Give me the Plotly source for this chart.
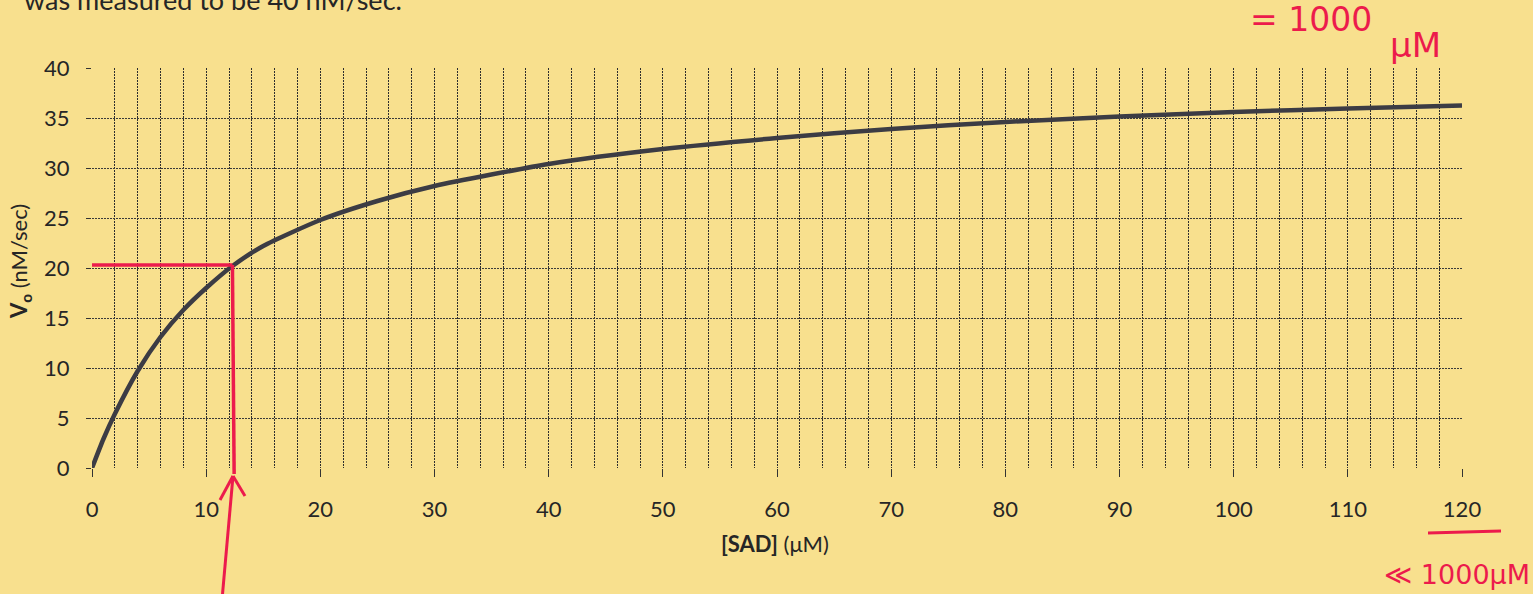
import plotly.graph_objects as go

# ---- data ----
sad_um = [0, 1, 2, 4, 6, 8, 10, 12.3, 15, 20, 25, 30, 40, 50, 60, 70, 80, 90, 100, 110, 120]
v0_nm_s = [0, 2.9, 5.4, 9.7, 13.1, 15.8, 18.0, 20.2, 22.2, 24.8, 26.7, 28.2, 30.4, 31.9,
           33.0, 33.9, 34.6, 35.15, 35.6, 35.95, 36.25]
half_vmax = 20.3      # red guide: half of Vmax
km_read = 12.3        # red guide: Km
x_ticks = [0, 10, 20, 30, 40, 50, 60, 70, 80, 90, 100, 110, 120]
y_ticks = [0, 5, 10, 15, 20, 25, 30, 35, 40]
x_max, y_max = 120, 40

W, H = 1533, 594
ML, MR, MT, MB = 92, W - 1462, 68, H - 468
PW, PH = W - ML - MR, H - MT - MB

def px(xp):
    return (xp - ML) / PW

def py(yp):
    return (H - MB - yp) / PH

BG = "#F8E08E"
RED = "#EC1B4C"
INK = "#262626"
FONT = "Lato"

fig = go.Figure()
fig.add_trace(go.Scatter(
    x=sad_um, y=v0_nm_s, mode="lines",
    line=dict(color="#3c3c44", width=4.5, shape="spline", smoothing=0.6),
    hoverinfo="skip", showlegend=False))

# red guide lines
fig.add_shape(type="line", xref="x", yref="y", x0=0, x1=km_read, y0=half_vmax, y1=half_vmax,
              line=dict(color=RED, width=3.5))
fig.add_shape(type="line", xref="x", yref="paper", x0=km_read, x1=km_read + 0.15,
              y0=half_vmax / y_max, y1=-0.6 / y_max, line=dict(color=RED, width=3.5))
# underline under 120
fig.add_shape(type="line", xref="paper", yref="paper", x0=px(1428), x1=px(1501),
              y0=py(533), y1=py(531), line=dict(color=RED, width=3))

# hand-drawn arrow pointing up at Km (tip just below the axis)
tip_x = ML + (km_read + 0.05) / x_max * PW
tip_y = H - MB + 8
arrow_segments = [
    ((tip_x - 11, 600), (tip_x, tip_y)),
    ((tip_x, tip_y), (tip_x - 13, tip_y + 24)),
    ((tip_x, tip_y), (tip_x + 12, tip_y + 20)),
]
for (xa, ya), (xb, yb) in arrow_segments:
    fig.add_shape(type="line", xref="paper", yref="paper",
                  x0=px(xa), y0=py(ya), x1=px(xb), y1=py(yb),
                  line=dict(color=RED, width=3))

ann = []
# axis titles
ann.append(dict(x=px(775), y=py(543), xref="paper", yref="paper", showarrow=False,
                text="<b>[SAD]</b> (μM)", font=dict(family=FONT, size=22, color=INK),
                xanchor="center", yanchor="middle"))
ann.append(dict(x=px(20), y=py(262), xref="paper", yref="paper", showarrow=False,
                text="<b>V<sub>o</sub></b> (nM/sec)", textangle=-90,
                font=dict(family=FONT, size=22, color=INK),
                xanchor="center", yanchor="middle"))
# cropped sentence at top
ann.append(dict(x=px(22), y=py(18), xref="paper", yref="paper", showarrow=False,
                text="was measured to be 40 nM/sec.", font=dict(family=FONT, size=27, color=INK),
                xanchor="left", yanchor="bottom"))
# handwriting
ann.append(dict(x=px(1248), y=py(20), xref="paper", yref="paper", showarrow=False,
                text="= 1000", font=dict(family="DejaVu Sans", size=33, color=RED),
                xanchor="left", yanchor="middle"))
ann.append(dict(x=px(1388), y=py(45), xref="paper", yref="paper", showarrow=False,
                text="μM", font=dict(family="DejaVu Sans", size=34, color=RED),
                xanchor="left", yanchor="middle"))
ann.append(dict(x=px(1382), y=py(574), xref="paper", yref="paper", showarrow=False,
                text="≪ 1000μM", font=dict(family="DejaVu Sans", size=27, color=RED),
                xanchor="left", yanchor="middle"))

grid_v = dict(gridcolor="#2e2e2e", gridwidth=1, griddash="1.5px,1.5px")
fig.update_layout(
    width=W, height=H,
    margin=dict(l=ML, r=MR, t=MT, b=MB),
    paper_bgcolor=BG, plot_bgcolor=BG,
    showlegend=False,
    annotations=ann,
    xaxis=dict(range=[0, x_max], tickvals=x_ticks, ticktext=[str(v) for v in x_ticks],
               showgrid=True, **grid_v, zeroline=False, showline=False,
               ticks="outside", ticklen=8, tickcolor="#333", tickwidth=1,
               ticklabelstandoff=14,
               tickfont=dict(family=FONT, size=22, color=INK),
               minor=dict(dtick=2, showgrid=True, ticks="", **grid_v)),
    yaxis=dict(range=[0, y_max], tickvals=y_ticks, ticktext=[str(v) for v in y_ticks],
               showgrid=True, gridcolor="#3a3a3a", gridwidth=1, griddash="1.5px,1.5px",
               zeroline=False, showline=False,
               ticks="outside", ticklen=5, tickcolor="#333", tickwidth=1,
               ticklabelstandoff=12,
               tickfont=dict(family=FONT, size=22, color=INK)),
)

fig.write_html("out.html",
               config={"displayModeBar": False},
               post_script="document.body.style.margin='0px';"
                           "document.body.style.background='" + BG + "';")
